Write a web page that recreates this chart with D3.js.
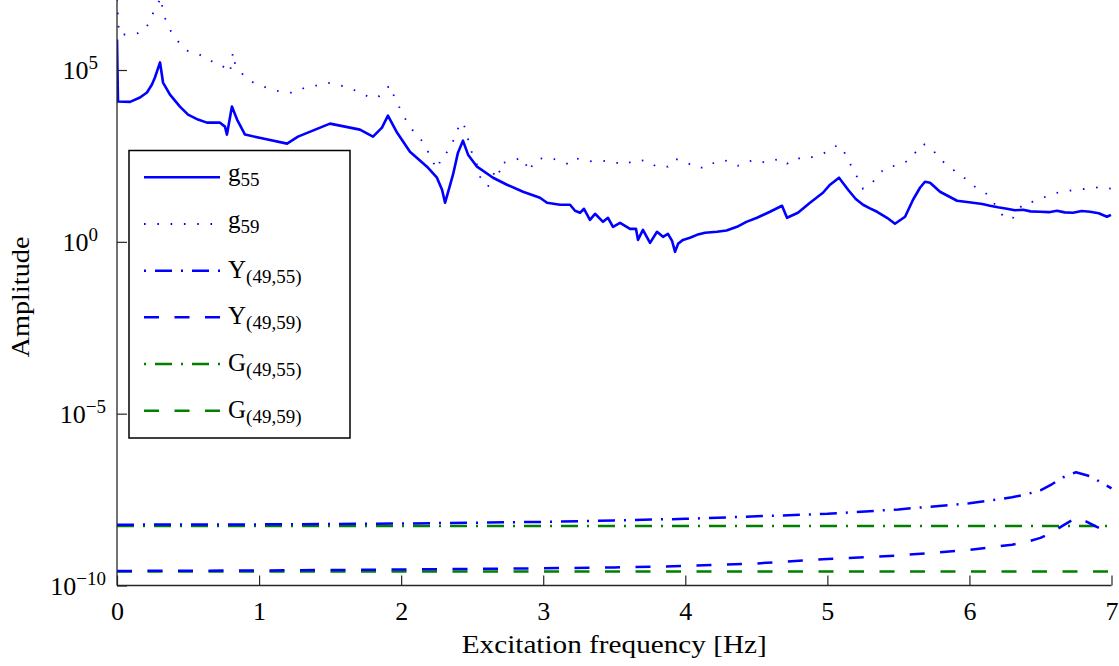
<!DOCTYPE html>
<html>
<head>
<meta charset="utf-8">
<script src="https://cdn.jsdelivr.net/npm/d3@7/dist/d3.min.js"></script>
<style>
  html, body { margin: 0; padding: 0; background: #fff; }
  svg { display: block; }
  text { font-family: "Liberation Serif", "Times New Roman", serif; fill: #000; }
</style>
</head>
<body>
<svg id="chart" width="1119" height="666"></svg>
<script>
// Measured frequency responses (frequency in Hz, amplitude)
const g55Freq = [0, 0.007, 0.092, 0.162, 0.211, 0.246, 0.267, 0.303, 0.324, 0.373,
  0.443, 0.500, 0.570, 0.633, 0.725, 0.760, 0.774, 0.809, 0.845, 0.901,
  1.028, 1.197, 1.274, 1.499, 1.710, 1.802, 1.865, 1.907, 1.971, 2.062,
  2.182, 2.252, 2.288, 2.309, 2.365, 2.400, 2.435, 2.471, 2.534, 2.647,
  2.745, 2.858, 2.977, 3.027, 3.118, 3.189, 3.224, 3.259, 3.287, 3.329,
  3.365, 3.421, 3.456, 3.491, 3.541, 3.611, 3.653, 3.667, 3.702, 3.752,
  3.801, 3.843, 3.878, 3.907, 3.928, 3.949, 3.984, 4.033, 4.082, 4.139,
  4.223, 4.290, 4.364, 4.430, 4.505, 4.596, 4.681, 4.716, 4.793, 4.878,
  4.969, 5.019, 5.082, 5.146, 5.200, 5.251, 5.300, 5.350, 5.420, 5.476,
  5.547, 5.603, 5.652, 5.687, 5.723, 5.793, 5.913, 6.025, 6.090, 6.145,
  6.200, 6.264, 6.320, 6.377, 6.430, 6.497, 6.560, 6.616, 6.670, 6.729,
  6.790, 6.849, 6.910, 6.968, 6.996];
const g55Amp = [7.75e5, 1.21e4, 1.18e4, 1.58e4, 2.21e4, 3.78e4, 6.04e4, 1.66e5, 4.32e4, 1.93e4,
  8.63e3, 5.04e3, 3.61e3, 2.94e3, 2.94e3, 2.25e3, 1.32e3, 8.63e3, 3.61e3, 1.32e3,
  1.01e3, 7.2e2, 1.15e3, 2.75e3, 1.84e3, 1.15e3, 2.11e3, 4.71e3, 1.51e3, 4.21e2,
  1.54e2, 73.4, 32.8, 13.7, 89.8, 3.94e2, 8.81e2, 3.44e2, 1.54e2, 73.4,
  45.9, 28.7, 19.2, 13.7, 12.0, 12.0, 8.01, 7.0, 9.16, 4.38,
  6.55, 3.83, 5.01, 2.74, 3.58, 2.39, 2.39, 1.14, 2.24, 0.935,
  1.96, 1.40, 1.71, 1.07, 0.511, 0.875, 1.14, 1.31, 1.60, 1.83,
  1.96, 2.15, 2.74, 3.80, 5.01, 7.50, 11.2, 5.01, 7.0, 13.7,
  26.8, 45.9, 73.4, 32.8, 17.6, 12.0, 9.4, 7.50, 5.01, 3.35,
  5.36, 16.8, 37.5, 56.1, 52.5, 28.7, 15.7, 13.7, 12.6, 11.2,
  10.1, 9.16, 8.30, 8.57, 7.70, 7.50, 7.30, 8.01, 7.20, 7.0,
  7.9, 7.5, 6.8, 5.36, 6.12];

const g59Freq = [0, 0.014, 0.099, 0.176, 0.225, 0.253, 0.289, 0.310, 0.324, 0.352,
  0.387, 0.436, 0.486, 0.570, 0.641, 0.711, 0.774, 0.795, 0.816, 0.831,
  0.880, 0.922, 0.985, 1.098, 1.168, 1.253, 1.323, 1.401, 1.478, 1.549,
  1.626, 1.696, 1.767, 1.837, 1.886, 1.929, 1.950, 1.985, 2.020, 2.062,
  2.105, 2.140, 2.175, 2.203, 2.231, 2.266, 2.273, 2.316, 2.358, 2.386,
  2.414, 2.435, 2.464, 2.478, 2.506, 2.541, 2.555, 2.611, 2.675, 2.696,
  2.717, 2.766, 2.851, 2.907, 2.928, 2.977, 3.048, 3.189, 3.238, 3.350,
  3.470, 3.562, 3.667, 3.752, 3.794, 3.878, 3.928, 4.012, 4.075, 4.160,
  4.209, 4.294, 4.371, 4.434, 4.505, 4.561, 4.667, 4.716, 4.786, 4.829,
  4.927, 5.004, 5.075, 5.110, 5.146, 5.181, 5.216, 5.251, 5.321, 5.406,
  5.512, 5.582, 5.624, 5.673, 5.744, 5.779, 5.877, 5.920, 5.983, 6.039,
  6.131, 6.166, 6.250, 6.307, 6.377, 6.447, 6.518, 6.588, 6.652, 6.757,
  6.828, 6.933, 6.996];
const g59Amp = [1.14e7, 1.08e6, 1.08e6, 1.24e6, 2.27e6, 4.44e6, 8.69e6, 1.30e7, 4.74e6, 2.27e6,
  1.16e6, 6.34e5, 3.71e5, 3.03e5, 1.89e5, 1.66e5, 1.03e5, 8.45e4, 3.24e5, 1.55e5,
  7.91e4, 5.28e4, 3.78e4, 2.70e4, 2.21e4, 2.21e4, 3.09e4, 3.53e4, 4.32e4, 3.78e4,
  3.09e4, 2.36e4, 1.69e4, 1.58e4, 2.89e4, 3.53e4, 1.69e4, 8.63e3, 4.41e3, 2.25e3,
  1.32e3, 9.42e2, 5.14e2, 3.44e2, 1.88e2, 1.34e2, 2.63e2, 3.68e2, 7.2e2, 1.32e3,
  2.94e3, 2.94e3, 1.41e3, 6.73e2, 3.21e2, 1.54e2, 78.5, 40.1, 1.54e2, 1.03e2,
  2.01e2, 2.15e2, 2.81e2, 1.10e2, 2.01e2, 2.63e2, 2.81e2, 1.76e2, 2.63e2, 2.15e2,
  2.30e2, 1.76e2, 2.46e2, 2.15e2, 1.54e2, 1.54e2, 2.63e2, 2.01e2, 1.44e2, 1.44e2,
  2.15e2, 2.30e2, 1.64e2, 2.15e2, 2.46e2, 2.01e2, 2.63e2, 1.88e2, 2.81e2, 2.46e2,
  3.21e2, 4.21e2, 6.73e2, 4.81e2, 2.46e2, 1.26e2, 68.7, 35.1, 56.1, 1.44e2,
  1.76e2, 2.46e2, 4.21e2, 7.2e2, 4.81e2, 2.81e2, 1.34e2, 96.1, 64.3, 40.1,
  23.5, 14.7, 4.69, 5.01, 12.8, 14.7, 19.2, 25.1, 28.7, 32.8,
  35.1, 40.1, 35.1];

// Model transfer functions
const y4955Freq = [0, 1, 2, 3, 3.5, 4, 4.5, 5, 5.5, 6, 6.3, 6.4, 6.5, 6.58, 6.66, 6.75, 6.85, 7];
const y4955Amp = [5.89e-9, 6.0e-9, 6.34e-9, 7.1e-9, 7.85e-9, 8.7e-9, 1.03e-8, 1.22e-8,
  1.64e-8, 2.46e-8, 3.68e-8, 4.5e-8, 5.89e-8, 8.81e-8, 1.41e-7, 1.97e-7, 1.51e-7, 6.7e-8];
const y4959Freq = [0, 1, 2, 3, 3.5, 4, 4.5, 5, 5.5, 6, 6.3, 6.4, 6.5, 6.58, 6.66, 6.75, 6.82, 7];
const y4959Amp = [2.65e-10, 2.74e-10, 2.92e-10, 3.17e-10, 3.35e-10, 3.7e-10, 4.38e-10, 5.92e-10,
  7.5e-10, 1.08e-9, 1.54e-9, 1.85e-9, 2.43e-9, 3.51e-9, 5.61e-9, 9.29e-9, 7.35e-9, 3.07e-9];
const gConstFreq = [0, 7];
const g4955Amp = [5.43e-9, 5.43e-9];
const g4959Amp = [2.56e-10, 2.56e-10];

// Axis ticks
const xTicks = [0, 1, 2, 3, 4, 5, 6, 7];
const yTicks = [1e-10, 1e-5, 1, 1e5];

const BLUE = "#0000ff", GREEN = "#008000";
const DOT = "1.6,11.7", DASHDOT = "17,9,2,9", DASH = "15,15.5";

const series = [
  { base: "g", sub: "55",      freq: g55Freq,   amp: g55Amp,   color: BLUE,  dash: null,    width: 2.6 },
  { base: "g", sub: "59",      freq: g59Freq,   amp: g59Amp,   color: BLUE,  dash: DOT,     width: 1.8 },
  { base: "Y", sub: "(49,55)", freq: y4955Freq, amp: y4955Amp, color: BLUE,  dash: DASHDOT, width: 2.5, legendOffset: 26 },
  { base: "Y", sub: "(49,59)", freq: y4959Freq, amp: y4959Amp, color: BLUE,  dash: DASH,    width: 2.5 },
  { base: "G", sub: "(49,55)", freq: gConstFreq, amp: g4955Amp, color: GREEN, dash: DASHDOT, width: 2.5, legendOffset: 26 },
  { base: "G", sub: "(49,59)", freq: gConstFreq, amp: g4959Amp, color: GREEN, dash: DASH,    width: 2.5 }
];

const svg = d3.select("#chart");
const plotLeft = 117, plotRight = 1111.5, plotTop = 0, plotBottom = 585.5;

const x = d3.scaleLinear().domain([0, 7]).range([plotLeft, plotRight]);
const y = d3.scaleLog().domain([1e-10, 1.089e7]).range([plotBottom, plotTop]);

svg.append("defs").append("clipPath").attr("id", "plotClip")
  .append("rect").attr("x", plotLeft).attr("y", plotTop)
  .attr("width", plotRight - plotLeft + 2).attr("height", plotBottom - plotTop);

// Curves: model lines first so measured curves sit on top
const line = d3.line().x(d => x(d[0])).y(d => y(d[1]));
const drawOrder = [4, 5, 2, 3, 1, 0];
const plot = svg.append("g").attr("clip-path", "url(#plotClip)");
drawOrder.forEach(i => {
  const s = series[i];
  plot.append("path")
    .datum(s.freq.map((f, k) => [f, s.amp[k]]))
    .attr("d", line)
    .attr("fill", "none")
    .attr("stroke", s.color)
    .attr("stroke-width", s.width)
    .attr("stroke-linejoin", "round")
    .attr("stroke-dasharray", s.dash);
});

// Axes
const axisColor = "#262626";
const xAxis = svg.append("g").attr("transform", `translate(0,${plotBottom})`)
  .call(d3.axisBottom(x).tickValues(xTicks).tickSize(-10).tickPadding(20)
    .tickFormat(d3.format("d")));
const yAxis = svg.append("g").attr("transform", `translate(${plotLeft},0)`)
  .call(d3.axisLeft(y).tickValues(yTicks).tickSize(-10).tickFormat(""));

[xAxis, yAxis].forEach(a => {
  a.select(".domain").attr("stroke", axisColor).attr("stroke-width", 1.3);
  a.selectAll(".tick line").attr("stroke", axisColor).attr("stroke-width", 1.2);
});
xAxis.select(".domain").attr("d", `M${plotLeft},0H${plotRight}`);
yAxis.select(".domain").attr("d", `M0,${plotBottom}V0`);

xAxis.selectAll(".tick text")
  .attr("font-family", '"Liberation Serif", serif')
  .attr("font-size", 26).attr("fill", "#000").attr("dy", null).attr("y", 34);

// Powers-of-ten tick labels
yTicks.forEach(v => {
  const exp = Math.round(Math.log10(v));
  const t = svg.append("text")
    .attr("x", exp < 0 ? 106 : 98)
    .attr("y", y(v) + 9)
    .attr("text-anchor", "end")
    .attr("font-size", 26);
  t.append("tspan").text("10");
  t.append("tspan").attr("dy", -10).attr("font-size", 19)
    .text(exp < 0 ? "\u2212" + Math.abs(exp) : String(exp));
});

// Axis titles
svg.append("text")
  .attr("x", (plotLeft + plotRight) / 2).attr("y", 653)
  .attr("text-anchor", "middle").attr("font-size", 26)
  .attr("textLength", 305).attr("lengthAdjust", "spacingAndGlyphs")
  .text("Excitation frequency [Hz]");
svg.append("text")
  .attr("transform", "translate(29,297) rotate(-90)")
  .attr("text-anchor", "middle").attr("font-size", 26)
  .attr("textLength", 121).attr("lengthAdjust", "spacingAndGlyphs")
  .text("Amplitude");

// Legend
const legend = svg.append("g");
legend.append("rect")
  .attr("x", 129).attr("y", 150.5).attr("width", 221).attr("height", 287.5)
  .attr("fill", "#fff").attr("stroke", "#000").attr("stroke-width", 1.5);

const rowY = d3.scaleLinear().domain([0, 5]).range([177.3, 410.7]);
const rows = legend.selectAll(".entry").data(series).join("g")
  .attr("class", "entry")
  .attr("transform", (d, i) => `translate(0,${rowY(i)})`);
rows.append("line")
  .attr("x1", 144).attr("x2", 220).attr("y1", 0).attr("y2", 0)
  .attr("stroke", d => d.color)
  .attr("stroke-width", d => d.width)
  .attr("stroke-dasharray", d => d.dash)
  .attr("stroke-dashoffset", d => d.legendOffset || 0);
const labels = rows.append("text")
  .attr("x", 228).attr("y", d => d.base === "g" ? 4 : 7)
  .attr("font-size", 25);
labels.append("tspan").text(d => d.base);
labels.append("tspan").attr("dy", 5).attr("font-size", 19).text(d => d.sub);
</script>
</body>
</html>
